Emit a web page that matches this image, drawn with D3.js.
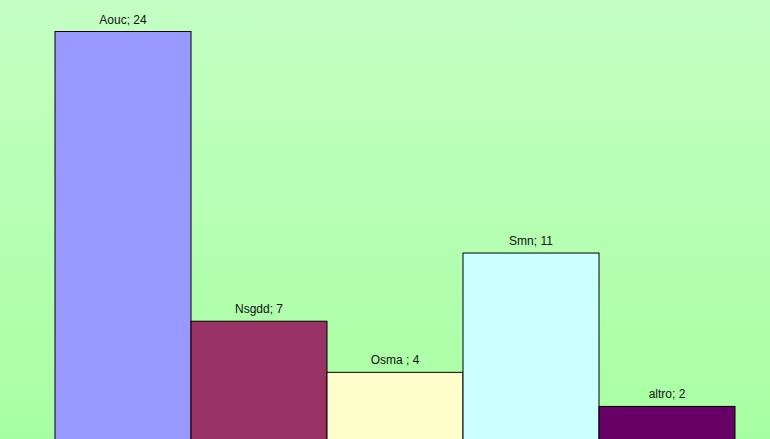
<!DOCTYPE html>
<html>
<head>
<meta charset="utf-8">
<script src="https://cdn.jsdelivr.net/npm/d3@7"></script>
<style>
  html, body { margin: 0; padding: 0; overflow: hidden; }
</style>
</head>
<body>
<div id="chart"></div>
<script>
// Données du graphique
const categories = ["Aouc", "Nsgdd", "Osma ", "Smn", "altro"];
const values = [24, 7, 4, 11, 2];
const colors = ["#9999ff", "#993366", "#ffffcc", "#ccffff", "#660066"];

const width = 770;
const height = 439;

const svg = d3.select("#chart")
  .append("svg")
  .attr("width", width)
  .attr("height", height);

// Fond en dégradé vert
const defs = svg.append("defs");
const grad = defs.append("linearGradient")
  .attr("id", "bg")
  .attr("x1", 0).attr("y1", 0)
  .attr("x2", 0).attr("y2", 1);
grad.append("stop").attr("offset", "0%").attr("stop-color", "#c4ffc4");
grad.append("stop").attr("offset", "100%").attr("stop-color", "#a8ffa2");

svg.append("rect")
  .attr("width", width)
  .attr("height", height)
  .attr("fill", "url(#bg)");

// Échelles
const x = d3.scaleBand()
  .domain(categories)
  .range([55, 735])
  .padding(0);

const y = d3.scaleLinear()
  .domain([0, 24])
  .range([440.5, 31.5]);

const data = categories.map((c, i) => ({ key: c, value: values[i], color: colors[i] }));

// Barres
svg.selectAll("rect.bar")
  .data(data)
  .enter()
  .append("rect")
  .attr("class", "bar")
  .attr("x", d => x(d.key))
  .attr("y", d => y(d.value))
  .attr("width", x.bandwidth())
  .attr("height", d => y(0) - y(d.value))
  .attr("fill", d => d.color)
  .attr("stroke", "#000")
  .attr("stroke-width", 1);

// Étiquettes
svg.selectAll("text.label")
  .data(data)
  .enter()
  .append("text")
  .attr("class", "label")
  .attr("x", d => x(d.key) + x.bandwidth() / 2)
  .attr("y", d => y(d.value) - 8)
  .attr("text-anchor", "middle")
  .style("font-family", "'Liberation Sans', Arial, sans-serif")
  .style("font-size", "12px")
  .style("fill", "#111")
  .text(d => `${d.key}; ${d.value}`);
</script>
</body>
</html>
